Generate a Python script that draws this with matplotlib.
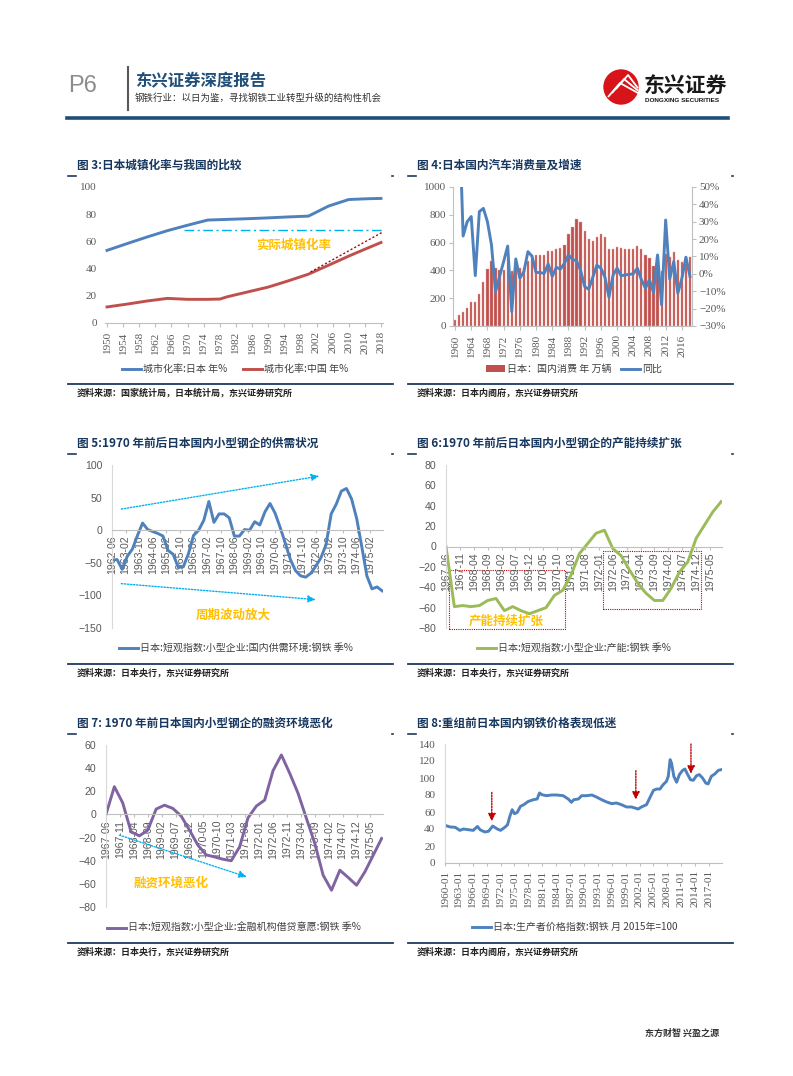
import matplotlib
matplotlib.use('Agg')
import matplotlib.pyplot as plt
from matplotlib.lines import Line2D
from matplotlib.patches import Rectangle, Circle, Patch

plt.rcParams['font.family'] = ['Noto Sans CJK SC', 'DejaVu Sans']
plt.rcParams['axes.unicode_minus'] = True

# ---------------- data ----------------
# Fig 3: urbanization rate (%)
urban_years = [1950, 1955, 1960, 1965, 1970, 1975, 1978, 1980, 1985, 1990, 1995, 2000, 2005, 2010, 2015, 2018]
urban_jp = [53.4, 58.4, 63.3, 67.9, 71.9, 75.7, 76.0, 76.2, 76.7, 77.3, 78.0, 78.6, 86.0, 90.8, 91.4, 91.6]
urban_cn = [11.8, 13.9, 16.2, 18.1, 17.4, 17.4, 17.6, 19.4, 22.9, 26.4, 31.0, 35.9, 42.5, 49.2, 55.5, 59.2]
urban_xticks = list(range(1950, 2019, 4))

# Fig 4: Japan domestic car sales (10k units) and yoy (%)
car_years = list(range(1960, 2019))
car_sales = [41, 80, 99, 130, 170, 170, 228, 314, 410, 470,
             420, 403, 405, 490, 393, 417, 415, 418, 468, 511,
             508, 508, 513, 540, 540, 554, 564, 580, 662, 715,
             767, 750, 683, 623, 611, 643, 662, 643, 554, 551,
             571, 563, 556, 556, 556, 575, 554, 508, 487, 434,
             496, 396, 518, 499, 535, 475, 458, 499, 494]
car_yoy = [None, 95, 21.8, 30, 33, -1.0, 35.8, 37.7, 30, 16.7,
           -10.2, -1.5, 7.1, 16.0, -21.7, 8.6, -2.5, 1.3, 12.8, 10.2,
           0.8, 0.8, 0.2, 5.7, -1.5, 3.8, 2.7, 6.1, 10.9, 8.3,
           7.5, 2.0, -7.3, -8.8, -2.0, 5.0, 3.3, -1.8, -13.4, -0.8,
           3.3, -1.1, -0.6, -0.3, 0.0, 3.3, -3.3, -8.2, -3.4, -10.7,
           10.9, -17.8, 31.0, -3.0, 7.1, -11.1, -2.6, 9.6, -1.5]
car_xticks = list(range(1960, 2017, 4))
car_yoy_ticks = [50, 40, 30, 20, 10, 0, -10, -20, -30]
car_yoy_labels = ['50%', '40%', '30%', '20%', '10%', '0%', '\u221210%', '\u221220%', '\u221230%']

# Fig 5: Tankan small enterprises, domestic supply-demand, steel (quarterly from 1962-06)
sd_month = list(range(0, 162, 3))
sd_value = [-46, -45, -60, -40, -29, -8, 11, 1, -2, -5,
            -9, -31, -37, -57, -56, -36, -8, 0, 15, 44,
            12, 25, 25, 19, -9, -9, 1, 0, 13, 8,
            28, 41, 26, 4, -20, -45, -62, -70, -72, -66,
            -55, -42, -22, 25, 40, 60, 64, 48, 18, -25,
            -70, -90, -87, -93]
sd_tick_month = list(range(0, 153, 8))
sd_tick_labels = ['1962-06', '1963-02', '1963-10', '1964-06', '1965-02', '1965-10', '1966-06',
                  '1967-02', '1967-10', '1968-06', '1969-02', '1969-10', '1970-06', '1971-02',
                  '1971-10', '1972-06', '1973-02', '1973-10', '1974-06', '1975-02']

# Fig 6: Tankan small enterprises, capacity, steel (quarterly from 1967-06)
cap_month = list(range(0, 100, 3))
cap_value = [0, -59, -58, -59, -58, -53, -51, -63, -59, -63,
             -66, -63, -60, -48, -43, -28, -7, 3, 13, 16,
             -2, -9, -23, -36, -46, -53, -53, -41, -25, -15,
             8, 21, 34, 44]
# Fig 7: Tankan small enterprises, lending attitude of financial institutions, steel
fin_month = list(range(0, 100, 3))
fin_value = [0, 24, 10, -15, -18.5, -13.6, 4.6, 8, 5.2, -1.4,
             -13.6, -26.5, -35, -36.7, -38.7, -40, -28, -3, 7.2, 12.4,
             37.8, 51.4, 35.5, 18.2, -3.5, -25, -52.5, -65.5, -48.2, -54.5,
             -61.2, -49.6, -35.2, -20.8]
q_tick_month = list(range(0, 96, 5))
q_tick_labels = ['1967-06', '1967-11', '1968-04', '1968-09', '1969-02', '1969-07', '1969-12',
                 '1970-05', '1970-10', '1971-03', '1971-08', '1972-01', '1972-06', '1972-11',
                 '1973-04', '1973-09', '1974-02', '1974-07', '1974-12', '1975-05']

# Fig 8: Japan PPI steel, 2015=100
ppi_t = [1960.0, 1961.1, 1962.2, 1963.2, 1964.0, 1965.0, 1966.1, 1967.0, 1967.6, 1968.6,
         1969.4, 1970.3, 1971.3, 1972.0, 1973.0, 1973.5, 1974.0, 1974.5, 1975.0, 1975.6,
         1976.3, 1977.0, 1978.0, 1979.1, 1979.9, 1980.4, 1980.9, 1981.9, 1983.0, 1984.1,
         1985.5, 1986.6, 1987.3, 1987.8, 1988.8, 1989.5, 1990.6, 1991.7, 1992.7, 1993.8,
         1994.9, 1996.0, 1997.0, 1998.1, 1999.2, 2000.3, 2001.0, 2001.7, 2002.4, 2003.5,
         2004.2, 2005.0, 2005.7, 2006.4, 2007.1, 2007.8, 2008.2, 2008.6, 2008.9, 2009.4,
         2010.0, 2010.6, 2011.3, 2011.8, 2012.3, 2013.0, 2013.6, 2014.3, 2014.9, 2015.6,
         2016.3, 2016.8, 2017.5, 2018.3, 2019.0, 2019.8]
ppi_v = [44.3, 42.4, 42.0, 38.4, 40.0, 39.2, 38.4, 43.0, 39.0, 36.5,
         37.3, 43.5, 40.0, 38.4, 42.4, 45.0, 55.0, 62.7, 58.0, 59.6,
         66.7, 68.6, 72.5, 74.5, 75.3, 82.4, 80.4, 79.2, 80.0, 80.0,
         79.2, 75.3, 71.4, 74.5, 75.3, 79.2, 79.2, 80.0, 77.6, 74.5,
         71.8, 69.8, 70.6, 68.6, 65.9, 65.9, 64.7, 63.5, 65.9, 68.6,
         76.5, 85.5, 87.0, 87.0, 92.2, 96.0, 102.0, 121.6, 117.6, 102.0,
         95.0, 104.0, 109.0, 110.6, 105.0, 98.0, 97.3, 102.7, 104.0, 100.0,
         94.0, 93.0, 102.0, 105.0, 109.0, 110.0]
ppi_xticks = list(range(1960, 2018, 3))

# ---------------- layout helpers ----------------
W, H = 793, 1076
fig = plt.figure(figsize=(W / 100, H / 100), dpi=100)

TITLE_C = '#17375E'
NAVY = '#1F3A60'
GRAY_T = '#595959'
AXIS_C = '#BFBFBF'
BLUE = '#4F81BD'
RED = '#C0504D'
GREEN = '#9BBB59'
PURPLE = '#8064A2'
ORANGE = '#FFC000'
CYAN = '#00B0F0'
DRED = '#C00000'
SERIF = ['Liberation Serif', 'DejaVu Serif']
SANS = ['Liberation Sans', 'DejaVu Sans']


def R(x0, y0, x1, y1):
    return [x0 / W, 1 - y1 / H, (x1 - x0) / W, (y1 - y0) / H]


def ftext(x, y, s, **kw):
    kw.setdefault('va', 'center')
    fig.text(x / W, 1 - y / H, s, **kw)


def hline(x0, x1, y, **kw):
    fig.add_artist(Line2D([x0 / W, x1 / W], [1 - y / H, 1 - y / H], transform=fig.transFigure, **kw))


def frame(xl, xr, ytitle, ybottom, title, source):
    ftext(xl + 9, ytitle, title, fontsize=8.4, fontweight='bold', color=TITLE_C)
    hline(xl, xl + 8, ytitle + 11, color=NAVY, lw=1.2)
    hline(xr - 1.5, xr, ytitle + 11, color=NAVY, lw=1.2)
    hline(xl, xr, ybottom, color=NAVY, lw=1.3)
    ftext(xl + 9, ybottom + 9, source, fontsize=6.5, color='#222222', fontweight='bold')


def base_style(ax, left=True):
    for s in ['top', 'right']:
        ax.spines[s].set_visible(False)
    ax.spines['left'].set_visible(left)
    ax.spines['left'].set_color('#D9D9D9')
    ax.spines['bottom'].set_color(AXIS_C)
    ax.patch.set_alpha(0)


def legend_at(ax, handles, labels, cx, cy, **kw):
    ax.legend(handles, labels, loc='center', bbox_to_anchor=(cx / W, 1 - cy / H),
              bbox_transform=fig.transFigure, frameon=False, fontsize=7.2,
              labelcolor='#404040', handletextpad=0.2, borderpad=0, **kw)


# ---------------- header ----------------
ftext(68, 86, 'P6', fontsize=17, color='#8C8C8C', family=SANS)
fig.add_artist(Line2D([128 / W, 128 / W], [1 - 67 / H, 1 - 110 / H], transform=fig.transFigure,
                      color='#595959', lw=1.5))
ftext(135, 81, '东兴证券深度报告', fontsize=11.8, fontweight='bold', color='#1F4E79')
ftext(135, 98, '钢铁行业：以日为鉴，寻找钢铁工业转型升级的结构性机会', fontsize=6.8, color='#333333')
hline(67, 728, 118, color='#1F4E79', lw=2.6)

lax = fig.add_axes(R(602, 69, 640, 105))
lax.set_xlim(0, 38)
lax.set_ylim(36, 0)
lax.set_aspect('equal')
lax.axis('off')
lax.add_patch(Circle((19, 18), 17, color='#D7141A'))
for d in [0, 4, 8]:
    lax.plot([6 + d, 18 + d, 36], [28 - d, 14 - d, 24 - d * 0.6], color='white', lw=1.3,
             solid_capstyle='butt')
ftext(644, 85, '东兴证券', fontsize=15, fontweight='bold', color='#1A1A1A')
ftext(645, 101, 'DONGXING SECURITIES', fontsize=4.6, fontweight='bold', family=SANS, color='#1A1A1A')

# ---------------- Fig 3 ----------------
frame(68, 393, 165, 384, '图 3:日本城镇化率与我国的比较', '资料来源：国家统计局，日本统计局，东兴证券研究所')
ax3 = fig.add_axes(R(105, 187, 383, 323))
base_style(ax3, left=False)
l1, = ax3.plot(urban_years, urban_jp, color=BLUE, lw=2.1)
l2, = ax3.plot(urban_years, urban_cn, color=RED, lw=2.1)
ax3.plot([1969, 2018.5], [68.3, 68.3], color=CYAN, lw=1.0, ls=(0, (7, 2.5, 1.5, 2.5)))
ax3.plot([2000.5, 2018.5], [37.5, 67], color=DRED, lw=1.0, ls=(0, (1.5, 1.5)))
ax3.text(1996.4, 57.3, '实际城镇化率', color=ORANGE, fontsize=9, fontweight='bold', ha='center', va='center')
ax3.set_xlim(1949.5, 2018.5)
ax3.set_ylim(0, 100)
ax3.set_yticks(range(0, 101, 20), labels=[str(v) for v in range(0, 101, 20)], fontfamily=SERIF)
ax3.set_xticks(urban_xticks, labels=[str(y) for y in urban_xticks], rotation=90, fontfamily=SERIF)
ax3.tick_params(axis='y', length=0, labelcolor=GRAY_T, labelsize=8, pad=6)
ax3.tick_params(axis='x', length=3, color=AXIS_C, labelcolor=GRAY_T, labelsize=8, pad=3)
legend_at(ax3, [l1, l2], ['城市化率:日本 年%', '城市化率:中国 年%'], 235, 369, ncol=2,
          handlelength=1.9, columnspacing=1.6)

# ---------------- Fig 4 ----------------
frame(408, 733, 165, 384, '图 4:日本国内汽车消费量及增速', '资料来源：日本内阁府，东兴证券研究所')
ax4 = fig.add_axes(R(453, 187, 692, 326))
base_style(ax4, left=True)
ax4.spines['left'].set_color(AXIS_C)
ax4.bar(car_years, car_sales, width=0.55, color=RED, edgecolor='#E3A9A7', linewidth=0.3)
ax4.set_xlim(1959.5, 2018.5)
ax4.set_ylim(0, 1000)
ax4.set_yticks(range(0, 1001, 200), labels=[str(v) for v in range(0, 1001, 200)], fontfamily=SERIF)
ax4.set_xticks(car_xticks, labels=[str(y) for y in car_xticks], rotation=90, fontfamily=SERIF)
ax4.tick_params(axis='y', length=3, color=AXIS_C, labelcolor=GRAY_T, labelsize=8, pad=2)
ax4.tick_params(axis='x', length=3, color=AXIS_C, labelcolor=GRAY_T, labelsize=8, pad=3)
ax4r = ax4.twinx()
for s in ['top', 'left', 'bottom']:
    ax4r.spines[s].set_visible(False)
ax4r.spines['right'].set_color(AXIS_C)
yoy_x = [y for y, v in zip(car_years, car_yoy) if v is not None]
yoy_y = [v for v in car_yoy if v is not None]
l4, = ax4r.plot(yoy_x, yoy_y, color=BLUE, lw=2.1)
ax4r.set_ylim(-30, 50)
ax4r.set_yticks(car_yoy_ticks, labels=car_yoy_labels, fontfamily=SERIF)
ax4r.tick_params(axis='y', length=3, color=AXIS_C, labelcolor=GRAY_T, labelsize=8, pad=2)
legend_at(ax4r, [Patch(facecolor=RED), l4], ['日本：国内消费 年 万辆', '同比'], 574, 369, ncol=2,
          handlelength=1.9, handleheight=0.6, columnspacing=1.0)

# ---------------- Fig 5 ----------------
frame(68, 393, 443, 664, '图 5:1970 年前后日本国内小型钢企的供需状况', '资料来源：日本央行，东兴证券研究所')
ax5 = fig.add_axes(R(112, 465, 383, 628))
base_style(ax5, left=True)
ax5.spines['bottom'].set_position(('data', 0))
l5, = ax5.plot(sd_month, sd_value, color=BLUE, lw=2.1)
ax5.annotate('', xy=(122, 83), xytext=(5.5, 32.4),
             arrowprops=dict(arrowstyle='-|>,head_length=0.45,head_width=0.2', color=CYAN, lw=1.0,
                             ls=(0, (1, 1.2)), shrinkA=0, shrinkB=0))
ax5.annotate('', xy=(120, -106.5), xytext=(5.5, -82),
             arrowprops=dict(arrowstyle='-|>,head_length=0.45,head_width=0.2', color=CYAN, lw=1.0,
                             ls=(0, (1, 1.2)), shrinkA=0, shrinkB=0))
ax5.text(71.6, -130, '周期波动放大', color=ORANGE, fontsize=9, fontweight='bold', ha='center', va='center')
ax5.set_xlim(0, 159.5)
ax5.set_ylim(-150, 100)
ax5.set_yticks(range(-150, 101, 50), labels=[str(v).replace('-', '\u2212') for v in range(-150, 101, 50)],
               fontfamily=SANS)
ax5.set_xticks(sd_tick_month, labels=sd_tick_labels, rotation=90, fontfamily=SANS)
ax5.tick_params(axis='y', length=0, labelcolor=GRAY_T, labelsize=7.6, pad=7)
ax5.tick_params(axis='x', length=2, color=AXIS_C, labelcolor=GRAY_T, labelsize=7.6, pad=2)
legend_at(ax5, [l5], ['日本:短观指数:小型企业:国内供需环境:钢铁 季%'], 236, 648, handlelength=1.9)

# ---------------- Fig 6 ----------------
frame(408, 733, 443, 664, '图 6:1970 年前后日本国内小型钢企的产能持续扩张', '资料来源：日本央行，东兴证券研究所')
ax6 = fig.add_axes(R(446, 465, 722, 628))
base_style(ax6, left=True)
ax6.spines['bottom'].set_position(('data', 0))
l6, = ax6.plot(cap_month, cap_value, color=GREEN, lw=2.1)
ax6.add_patch(Rectangle((1.2, -80.7), 41.6, 57.4, fill=False, edgecolor=DRED, lw=0.8, ls=(0, (1, 1)),
                        clip_on=False))
ax6.add_patch(Rectangle((56.5, -61.6), 35.4, 57.0, fill=False, edgecolor=DRED, lw=0.8, ls=(0, (1, 1)),
                        clip_on=False))
ax6.text(21.8, -73.5, '产能持续扩张', color=ORANGE, fontsize=9, fontweight='bold', ha='center', va='center')
ax6.set_xlim(0, 99.3)
ax6.set_ylim(-80, 80)
ax6.set_yticks(range(-80, 81, 20), labels=[str(v).replace('-', '\u2212') for v in range(-80, 81, 20)],
               fontfamily=SANS)
ax6.set_xticks(q_tick_month, labels=q_tick_labels, rotation=90, fontfamily=SANS)
ax6.tick_params(axis='y', length=0, labelcolor=GRAY_T, labelsize=7.6, pad=7)
ax6.tick_params(axis='x', length=2, color=AXIS_C, labelcolor=GRAY_T, labelsize=7.6, pad=2)
legend_at(ax6, [l6], ['日本:短观指数:小型企业:产能:钢铁 季%'], 574, 648, handlelength=1.9)

# ---------------- Fig 7 ----------------
frame(68, 393, 723, 943, '图 7: 1970 年前日本国内小型钢企的融资环境恶化', '资料来源：日本央行，东兴证券研究所')
ax7 = fig.add_axes(R(106, 745, 383, 907))
base_style(ax7, left=True)
ax7.spines['bottom'].set_position(('data', 0))
l7, = ax7.plot(fin_month, fin_value, color=PURPLE, lw=2.1)
ax7.annotate('', xy=(50.6, -54), xytext=(4.8, -17.9),
             arrowprops=dict(arrowstyle='-|>,head_length=0.45,head_width=0.2', color=CYAN, lw=1.0,
                             ls=(0, (1, 1.2)), shrinkA=0, shrinkB=0))
ax7.text(23.3, -59.7, '融资环境恶化', color=ORANGE, fontsize=9, fontweight='bold', ha='center', va='center')
ax7.set_xlim(0, 99.5)
ax7.set_ylim(-80, 60)
ax7.set_yticks(range(-80, 61, 20), labels=[str(v).replace('-', '\u2212') for v in range(-80, 61, 20)],
               fontfamily=SANS)
ax7.set_xticks(q_tick_month, labels=q_tick_labels, rotation=90, fontfamily=SANS)
ax7.tick_params(axis='y', length=0, labelcolor=GRAY_T, labelsize=7.6, pad=7)
ax7.tick_params(axis='x', length=2, color=AXIS_C, labelcolor=GRAY_T, labelsize=7.6, pad=2)
legend_at(ax7, [l7], ['日本:短观指数:小型企业:金融机构借贷意愿:钢铁 季%'], 234, 928, handlelength=1.9)

# ---------------- Fig 8 ----------------
frame(408, 733, 723, 943, '图 8:重组前日本国内钢铁价格表现低迷', '资料来源：日本内阁府，东兴证券研究所')
ax8 = fig.add_axes(R(445, 744, 722, 863))
base_style(ax8, left=True)
l8, = ax8.plot(ppi_t, ppi_v, color=BLUE, lw=2.1)
for ax_x, y0, y1 in [(1970.1, 83, 49), (2001.2, 108.6, 74.5), (2013.1, 140, 105)]:
    ax8.annotate('', xy=(ax_x, y1), xytext=(ax_x, y0),
                 arrowprops=dict(arrowstyle='-|>,head_length=0.45,head_width=0.22', color=DRED, lw=1.0,
                                 ls=(0, (1, 1)), shrinkA=0, shrinkB=0), annotation_clip=False)
ax8.set_xlim(1960, 2019.8)
ax8.set_ylim(0, 140)
ax8.set_yticks(range(0, 141, 20), labels=[str(v) for v in range(0, 141, 20)], fontfamily=SERIF)
ax8.set_xticks(ppi_xticks, labels=[f'{y}-01' for y in ppi_xticks], rotation=90, fontfamily=SERIF)
ax8.tick_params(axis='y', length=0, labelcolor=GRAY_T, labelsize=8, pad=7)
ax8.tick_params(axis='x', length=2, color=AXIS_C, labelcolor=GRAY_T, labelsize=8, pad=3)
legend_at(ax8, [l8], ['日本:生产者价格指数:钢铁 月 2015年=100'], 575, 927, handlelength=1.9)

# ---------------- footer ----------------
ftext(645, 1033, '东方财智 兴盈之源', fontsize=6.5, fontweight='bold', color='#333333')

fig.savefig('out.png', dpi=100)
